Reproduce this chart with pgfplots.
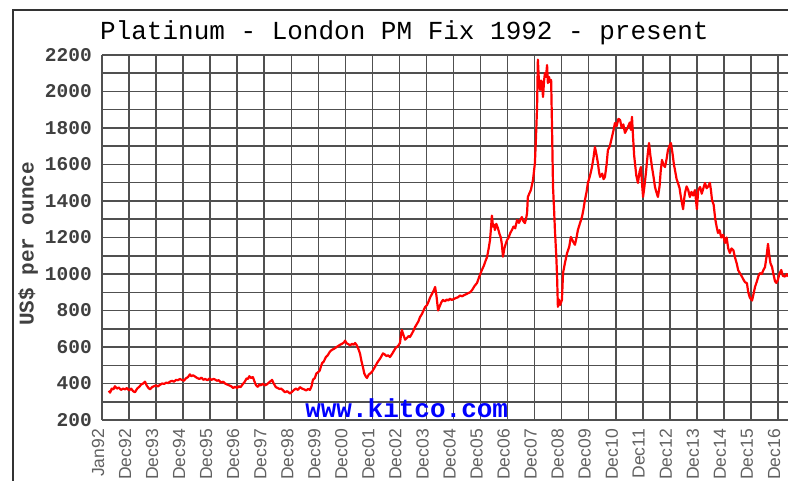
\documentclass[border=0pt]{standalone}
\usepackage{pgfplots}
\pgfplotsset{compat=1.18}
\usepackage{fontspec}
\setmainfont{Liberation Sans}
\newfontfamily\monofont{Liberation Mono}
\definecolor{kitcoblue}{RGB}{0,0,255}
\definecolor{gridgray}{RGB}{80,80,80}
\begin{document}
\begin{tikzpicture}[x=1pt,y=1pt]
\useasboundingbox (0pt,0pt) rectangle (788pt,480pt);
\draw[black!80, line width=1.6pt] (13pt,-5pt) -- (13pt,470pt) -- (795pt,470pt);
\begin{axis}[
  at={(102pt,60pt)}, anchor=south west,
  scale only axis, width=686pt, height=365pt,
  xmin=1992, xmax=2017.37, ymin=200, ymax=2200,
  axis line style={draw=none},
  /pgf/number format/assume math mode=true,
  /pgf/number format/1000 sep={},
  xtick={1992,1993,...,2017},
  xticklabels={Jan92,Dec92,Dec93,Dec94,Dec95,Dec96,Dec97,Dec98,Dec99,Dec00,Dec01,Dec02,Dec03,Dec04,Dec05,Dec06,Dec07,Dec08,Dec09,Dec10,Dec11,Dec12,Dec13,Dec14,Dec15,Dec16},
  ytick={200,400,...,2200},
  minor ytick={300,500,...,2100},
  grid=both,
  major grid style={gridgray, line width=1.5pt},
  minor grid style={gridgray, line width=1.5pt},
  major tick length=0pt, minor tick length=0pt,
  tick style={draw=none},
  yticklabel style={font=\monofont\bfseries\fontsize{19.5}{20}\selectfont, text=black!75, anchor=east, inner sep=0pt, xshift=-10pt},
  xticklabel style={font=\fontsize{17.5}{18}\selectfont, text=black!62, rotate=90, anchor=east, inner sep=0pt, xshift=-9pt, yshift=4pt},
  title={Platinum - London PM Fix 1992 - present},
  title style={at={(0,1)}, anchor=base west, xshift=-2pt, yshift=9pt, inner sep=0pt, font=\monofont\fontsize{26}{28}\selectfont, text=black},
  ylabel={US\$ per ounce},
  ylabel style={at={(rel axis cs:0,0.482)}, anchor=center, yshift=74pt, inner sep=0pt, font=\monofont\bfseries\fontsize{21}{22}\selectfont, text=black!75},
  clip=true,
]
\addplot[color=red, line width=2.2pt, line join=round] coordinates {
(1992.25,360) (1992.30,350) (1992.36,372) (1992.42,368) (1992.48,385) (1992.55,372) (1992.62,378) (1992.70,365) (1992.78,372) (1992.85,368) (1992.92,375)
(1993.00,362) (1993.08,372) (1993.15,358) (1993.22,352) (1993.30,372) (1993.38,382) (1993.45,395) (1993.52,400) (1993.59,410) (1993.65,390) (1993.72,375) (1993.78,368) (1993.85,380) (1993.92,385)
(1994.00,390) (1994.07,384) (1994.14,392) (1994.22,400) (1994.30,398) (1994.38,405) (1994.45,402) (1994.51,410) (1994.58,415) (1994.66,410) (1994.74,420) (1994.81,418) (1994.88,425) (1994.95,420)
(1995.03,415) (1995.10,428) (1995.18,435) (1995.25,450) (1995.30,440) (1995.37,445) (1995.44,438) (1995.52,430) (1995.60,425) (1995.68,432) (1995.75,420) (1995.81,425) (1995.90,418) (1995.98,428)
(1996.05,420) (1996.12,425) (1996.18,422) (1996.25,415) (1996.32,418) (1996.40,405) (1996.48,410) (1996.55,400) (1996.62,395) (1996.70,390) (1996.78,385) (1996.85,375) (1996.92,382)
(1997.00,375) (1997.05,385) (1997.12,380) (1997.20,395) (1997.28,410) (1997.35,428) (1997.40,425) (1997.45,440) (1997.52,430) (1997.58,435) (1997.63,415) (1997.68,395) (1997.73,385) (1997.77,382) (1997.82,395) (1997.88,390) (1997.95,398)
(1998.03,390) (1998.10,395) (1998.17,405) (1998.23,412) (1998.29,420) (1998.35,400) (1998.43,380) (1998.50,375) (1998.57,370) (1998.63,372) (1998.70,362) (1998.77,352) (1998.85,358) (1998.95,345)
(1999.03,355) (1999.10,365) (1999.17,372) (1999.25,365) (1999.32,380) (1999.40,372) (1999.47,368) (1999.55,362) (1999.62,370) (1999.69,365) (1999.75,385) (1999.80,420) (1999.87,430) (1999.93,455) (1999.99,462)
(2000.05,470) (2000.10,495) (2000.14,512) (2000.20,520) (2000.28,545) (2000.35,555) (2000.43,575) (2000.51,585) (2000.58,590) (2000.66,598) (2000.73,605) (2000.80,612) (2000.88,618) (2000.95,625) (2000.99,635)
(2001.05,620) (2001.12,615) (2001.17,608) (2001.25,618) (2001.30,612) (2001.36,622) (2001.42,610) (2001.48,590) (2001.54,565) (2001.60,520) (2001.65,490) (2001.70,455) (2001.75,440) (2001.80,430) (2001.86,448) (2001.92,455) (2001.99,465)
(2002.05,480) (2002.11,495) (2002.17,512) (2002.23,525) (2002.30,540) (2002.39,565) (2002.45,560) (2002.52,550) (2002.58,555) (2002.65,545) (2002.72,560) (2002.80,580) (2002.86,595) (2002.91,600) (2002.97,610)
(2003.02,622) (2003.07,680) (2003.09,693) (2003.15,665) (2003.21,640) (2003.28,650) (2003.34,660) (2003.39,655) (2003.45,670) (2003.52,690) (2003.58,710) (2003.64,725) (2003.70,740) (2003.76,764) (2003.83,780) (2003.89,800) (2003.95,819)
(2004.02,830) (2004.08,850) (2004.13,870) (2004.20,890) (2004.27,910) (2004.32,929) (2004.37,880) (2004.43,800) (2004.48,820) (2004.55,845) (2004.61,858) (2004.68,850) (2004.75,860) (2004.81,855) (2004.87,865) (2004.93,858)
(2005.00,862) (2005.08,868) (2005.16,872) (2005.24,882) (2005.32,878) (2005.40,885) (2005.48,890) (2005.54,895) (2005.62,900) (2005.70,915) (2005.78,935) (2005.87,951) (2005.95,985)
(2006.05,1022) (2006.12,1045) (2006.18,1070) (2006.24,1093) (2006.30,1140) (2006.35,1186) (2006.39,1260) (2006.42,1320) (2006.46,1260) (2006.50,1270) (2006.53,1241) (2006.58,1275) (2006.64,1252) (2006.70,1220) (2006.75,1200) (2006.79,1160) (2006.83,1095) (2006.88,1140) (2006.93,1165) (2006.98,1186)
(2007.04,1200) (2007.10,1225) (2007.16,1241) (2007.22,1260) (2007.28,1250) (2007.35,1296) (2007.42,1280) (2007.48,1300) (2007.53,1312) (2007.58,1290) (2007.64,1279) (2007.68,1300) (2007.72,1334) (2007.75,1422) (2007.80,1440) (2007.86,1460) (2007.94,1515)
(2008.01,1608) (2008.05,1750) (2008.09,1915) (2008.12,2175) (2008.16,2050) (2008.20,2008) (2008.24,2060) (2008.27,2046) (2008.31,1970) (2008.35,2060) (2008.38,2101) (2008.42,2080) (2008.46,2145) (2008.49,2046) (2008.53,2080) (2008.58,2050) (2008.61,2063) (2008.64,1827) (2008.68,1477) (2008.72,1350) (2008.75,1241) (2008.80,1100) (2008.83,986) (2008.86,820) (2008.90,860) (2008.94,830)
(2009.01,858) (2009.05,1005) (2009.12,1060) (2009.20,1115) (2009.28,1150) (2009.34,1203) (2009.38,1190) (2009.45,1170) (2009.49,1160) (2009.55,1200) (2009.60,1241) (2009.68,1280) (2009.75,1312) (2009.80,1350) (2009.86,1405) (2009.92,1450) (2009.97,1499)
(2010.05,1540) (2010.12,1586) (2010.18,1640) (2010.23,1696) (2010.28,1660) (2010.34,1608) (2010.38,1560) (2010.42,1532) (2010.50,1550) (2010.55,1520) (2010.60,1532) (2010.66,1600) (2010.71,1679) (2010.78,1700) (2010.86,1751) (2010.92,1790) (2010.97,1827)
(2011.03,1810) (2011.10,1850) (2011.16,1844) (2011.22,1800) (2011.28,1820) (2011.34,1773) (2011.40,1790) (2011.45,1806) (2011.52,1830) (2011.56,1790) (2011.60,1861) (2011.64,1750) (2011.68,1650) (2011.71,1608) (2011.76,1540) (2011.82,1499) (2011.88,1560) (2011.93,1586) (2011.97,1500)
(2012.01,1422) (2012.06,1480) (2012.12,1560) (2012.16,1625) (2012.20,1680) (2012.23,1718) (2012.28,1650) (2012.34,1586) (2012.40,1530) (2012.45,1477) (2012.50,1450) (2012.56,1422) (2012.62,1480) (2012.66,1560) (2012.71,1625) (2012.76,1600) (2012.82,1586) (2012.88,1630) (2012.93,1679) (2012.98,1700)
(2013.04,1718) (2013.10,1660) (2013.15,1600) (2013.19,1570) (2013.25,1520) (2013.30,1499) (2013.36,1470) (2013.40,1430) (2013.49,1355) (2013.53,1410) (2013.56,1444) (2013.62,1480) (2013.68,1460) (2013.74,1422) (2013.80,1450) (2013.86,1430) (2013.93,1460) (2014.00,1355)
(2014.05,1460) (2014.12,1477) (2014.18,1440) (2014.24,1470) (2014.30,1499) (2014.36,1470) (2014.42,1480) (2014.48,1500) (2014.52,1460) (2014.56,1405) (2014.62,1380) (2014.68,1300) (2014.73,1260) (2014.78,1225) (2014.84,1240) (2014.90,1200) (2014.97,1215)
(2015.04,1170) (2015.10,1200) (2015.16,1140) (2015.22,1115) (2015.28,1140) (2015.35,1130) (2015.41,1090) (2015.47,1060) (2015.53,1020) (2015.59,1005) (2015.65,990) (2015.72,970) (2015.78,955) (2015.85,950) (2015.90,900) (2015.96,870)
(2016.04,855) (2016.08,880) (2016.15,929) (2016.22,960) (2016.28,990) (2016.33,1005) (2016.40,1000) (2016.46,1022) (2016.52,1038) (2016.58,1100) (2016.63,1165) (2016.68,1100) (2016.72,1060) (2016.78,1038) (2016.83,1000) (2016.89,960) (2016.94,951)
(2017.00,970) (2017.05,1000) (2017.12,1022) (2017.18,990) (2017.26,986) (2017.32,1000) (2017.37,986)
};
\node[anchor=base west, inner sep=0pt, text=kitcoblue, font=\monofont\bfseries\fontsize{26}{28}\selectfont] at (rel axis cs:0.296,0.0055) {www.kitco.com};
\end{axis}
\end{tikzpicture}
\end{document}
